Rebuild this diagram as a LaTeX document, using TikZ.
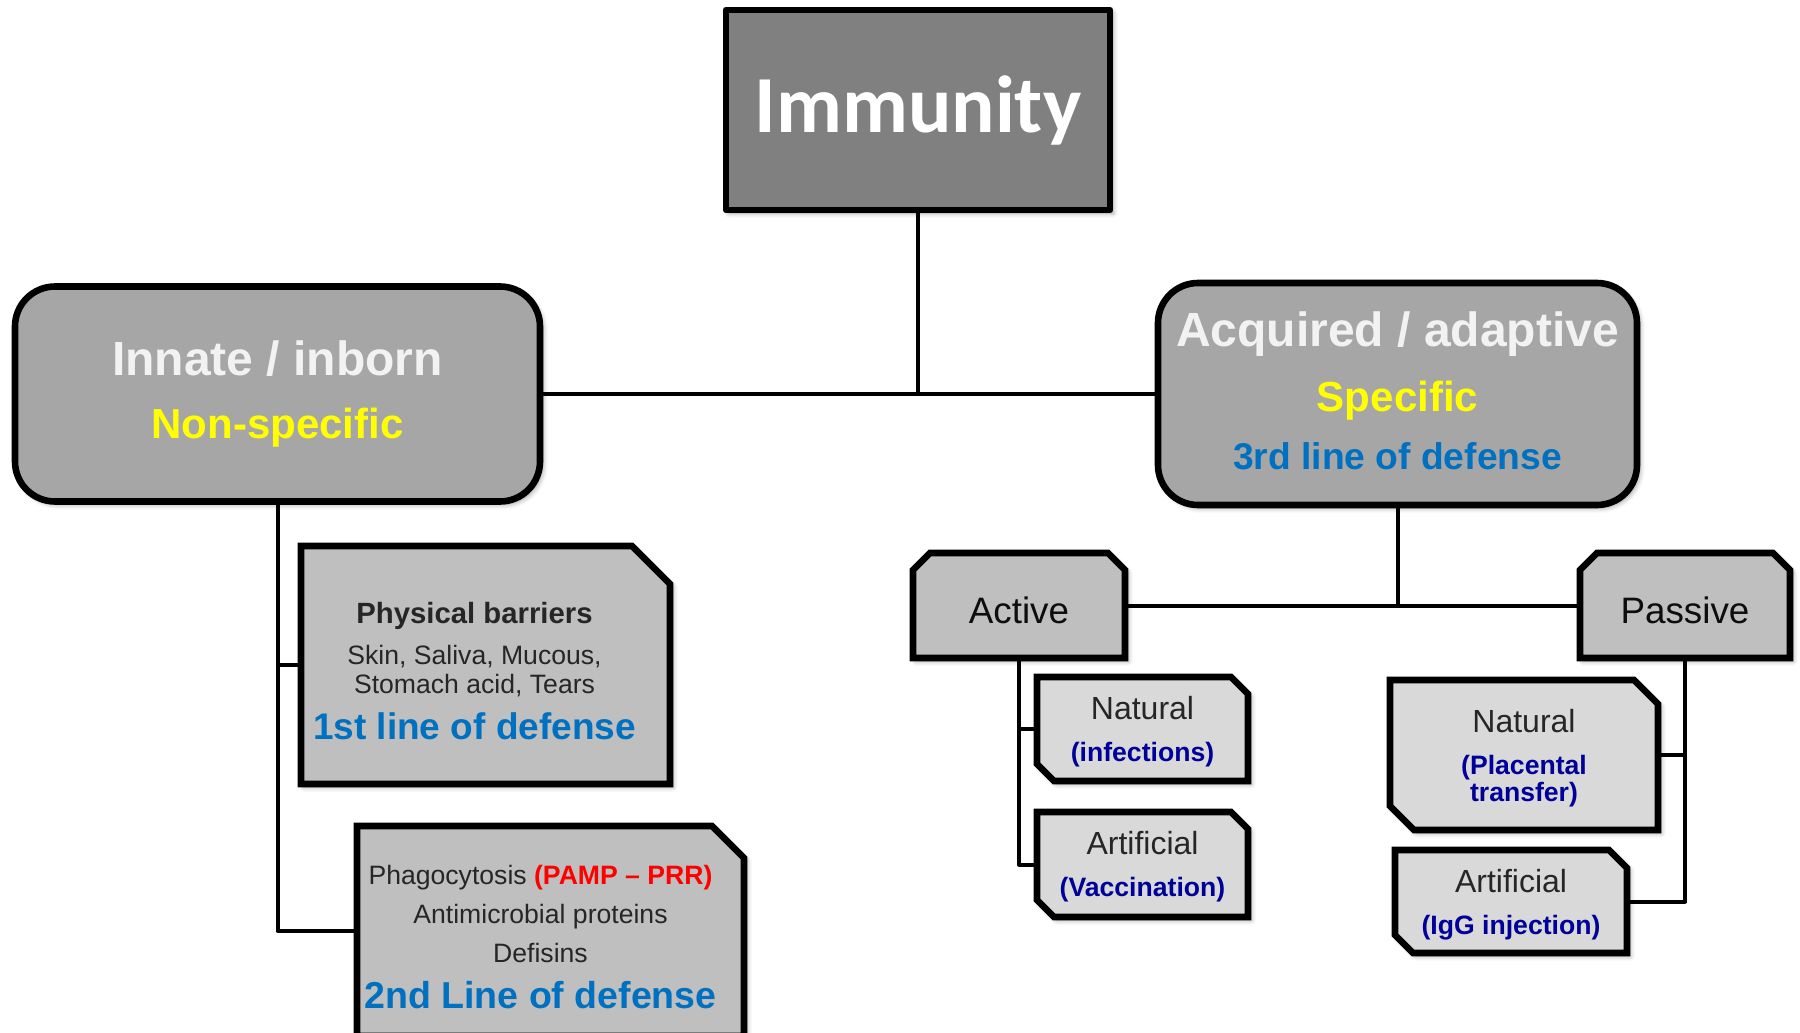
\documentclass[tikz,border=0pt]{standalone}
\usepackage{fontspec}
\setmainfont{Liberation Sans}
\newfontfamily\calibri{Carlito}
\usepackage{xcolor}
\usetikzlibrary{backgrounds, shadows.blur}

\definecolor{boxdark}{RGB}{128,128,128}
\definecolor{boxmid}{RGB}{166,166,166}
\definecolor{boxlight}{RGB}{191,191,191}
\definecolor{boxpale}{RGB}{217,217,217}
\definecolor{lineblue}{RGB}{0,112,192}
\definecolor{navyblue}{RGB}{0,0,153}
\definecolor{txtgray}{RGB}{38,38,38}
\definecolor{txtwhite}{RGB}{242,242,242}
\definecolor{hiyellow}{RGB}{255,255,0}
\newcommand{\fsz}[2]{\fontsize{#1}{#2}\selectfont}
% outlines with cut corners, drawn round a holder node
\newcommand{\snipone}[3]{%
  \path [outline, fill=#1] (#2.north west) -- ([xshift=-#3]#2.north east) -- ([yshift=-#3]#2.north east)
    -- (#2.south east) -- (#2.south west) -- cycle;}
\newcommand{\sniptop}[3]{%
  \path [outline, fill=#1] ([yshift=-#3]#2.north west) -- ([xshift=#3]#2.north west) -- ([xshift=-#3]#2.north east)
    -- ([yshift=-#3]#2.north east) -- (#2.south east) -- (#2.south west) -- cycle;}
\newcommand{\snipdiag}[3]{%
  \path [outline, fill=#1] (#2.north west) -- ([xshift=-#3]#2.north east) -- ([yshift=-#3]#2.north east)
    -- (#2.south east) -- ([xshift=#3]#2.south west) -- ([yshift=#3]#2.south west) -- cycle;}

\begin{document}
\begin{tikzpicture}[x=0.5pt, y=-0.5pt, line join=round]
    \tikzstyle{softshadow} = [blur shadow={shadow xshift=1.5pt, shadow yshift=-1.5pt, shadow blur radius=2.5pt, shadow opacity=40}]
    \tikzstyle{outline} = [draw, line width=3.3pt, softshadow]
    \tikzstyle{topbox} = [outline, rectangle, fill=boxdark, text=white, inner sep=0pt, minimum width=192pt, minimum height=100pt]
    \tikzstyle{typebox} = [outline, rectangle, rounded corners=20pt, fill=boxmid, text=txtwhite, align=center, inner sep=0pt]
    \tikzstyle{holder} = [rectangle, inner sep=0pt, outer sep=0pt]
    \tikzstyle{boxtext} = [align=center, inner sep=0pt, text=txtgray]
    \tikzstyle{kindtext} = [boxtext, text=black!95, font=\fsz{18.4}{22}, shift={(0,5)}]
    \tikzstyle{subtext} = [boxtext, font=\fsz{16}{21}]
    \tikzstyle{link} = [line width=2pt]
    \useasboundingbox (0,0) rectangle (1800,1033);

    \node [topbox] at (918,110) (immunity) {\calibri\bfseries\fsz{40.5}{48}Immunity};
    \node [typebox, minimum width=262.5pt, minimum height=107.5pt, font=\bfseries\fsz{24}{31.9}] at (277.5,394) (innate)
        {Innate / inborn\\{\color{hiyellow}\fsz{21}{31.9}Non-specific}};
    \node [typebox, minimum width=239.5pt, minimum height=111pt, text depth=3.5pt, font=\bfseries\fsz{24}{32.4}] at (1397.5,394) (acquired)
        {Acquired / adaptive\\{\color{hiyellow}\fsz{21}{32.4}Specific}\\[-3.55pt]{\color{lineblue}\fsz{18.6}{32.4}3rd line of defense}};

    \node [holder, minimum width=184.5pt, minimum height=119pt,
        label={[boxtext, font=\fsz{13.3}{14.5}, shift={(-11,6)}]center:{{\bfseries\fsz{14.65}{14.5}Physical barriers}\\[6pt]Skin, Saliva, Mucous,\\Stomach acid, Tears\\[7pt]{\bfseries\color{lineblue}\fsz{18.5}{14.5}1st line of defense}}}]
        at (485.5,665) (barriers) {};
    \node [holder, minimum width=193.5pt, minimum height=105pt,
        label={[boxtext, font=\fsz{13.3}{19.5}, shift={(-10,6)}]center:{Phagocytosis {\bfseries\color{red}(PAMP – PRR)}\\Antimicrobial proteins\\Defisins\\[3.8pt]{\bfseries\color{lineblue}\fsz{18.75}{19.5}2nd Line of defense}}}]
        at (550.5,931) (second) {};

    \node [holder, minimum width=106pt, minimum height=52.5pt, label={[kindtext]center:Active}] at (1019,605.5) (active) {};
    \node [holder, minimum width=105pt, minimum height=52.5pt, label={[kindtext]center:Passive}] at (1685,605.5) (passive) {};
    \node [holder, minimum width=105.5pt, minimum height=52pt,
        label={[subtext, shift={(0,2.5)}]center:{Natural\\{\bfseries\color{navyblue}\fsz{13.3}{21}(infections)}}}]
        at (1142.5,729) (actnat) {};
    \node [holder, minimum width=105.5pt, minimum height=52.5pt,
        label={[subtext, shift={(0,2.5)}]center:{Artificial\\{\bfseries\color{navyblue}\fsz{13.3}{21}(Vaccination)}}}]
        at (1142.5,864.5) (actart) {};
    \node [holder, minimum width=134pt, minimum height=75pt,
        label={[subtext, shift={(0,3.5)}]center:{Natural\\{\bfseries\color{navyblue}\fsz{13.3}{21}(Placental}\\[-7.5pt]{\bfseries\color{navyblue}\fsz{13.3}{21}transfer)}}}]
        at (1524,755) (pasnat) {};
    \node [holder, minimum width=116pt, minimum height=51.5pt,
        label={[subtext, shift={(0,3)}]center:{Artificial\\{\bfseries\color{navyblue}\fsz{13.3}{21}(IgG injection)}}}]
        at (1511,901.5) (pasart) {};

    \begin{scope}[on background layer]
        \snipone{boxlight}{barriers}{19pt}
        \snipone{boxlight}{second}{16pt}
        \sniptop{boxlight}{active}{8.5pt}
        \sniptop{boxlight}{passive}{8.5pt}
        \snipdiag{boxpale}{actnat}{8.5pt}
        \snipdiag{boxpale}{actart}{8.5pt}
        \snipdiag{boxpale}{pasnat}{12pt}
        \snipdiag{boxpale}{pasart}{9pt}
    \end{scope}

    \draw [link] (immunity.south) -- (immunity.south |- innate.east);
    \draw [link] (innate.east) -- (acquired.west);
    \draw [link] (innate.south) |- (second.west);
    \draw [link] (innate.south |- barriers.west) -- (barriers.west);
    \draw [link] (acquired.south) -- (acquired.south |- active.east);
    \draw [link] (active.east) -- (passive.west);
    \draw [link] (active.south) |- (actart.west);
    \draw [link] (active.south |- actnat.west) -- (actnat.west);
    \draw [link] (passive.south) |- (pasart.east);
    \draw [link] (passive.south |- pasnat.east) -- (pasnat.east);
\end{tikzpicture}
\end{document}
